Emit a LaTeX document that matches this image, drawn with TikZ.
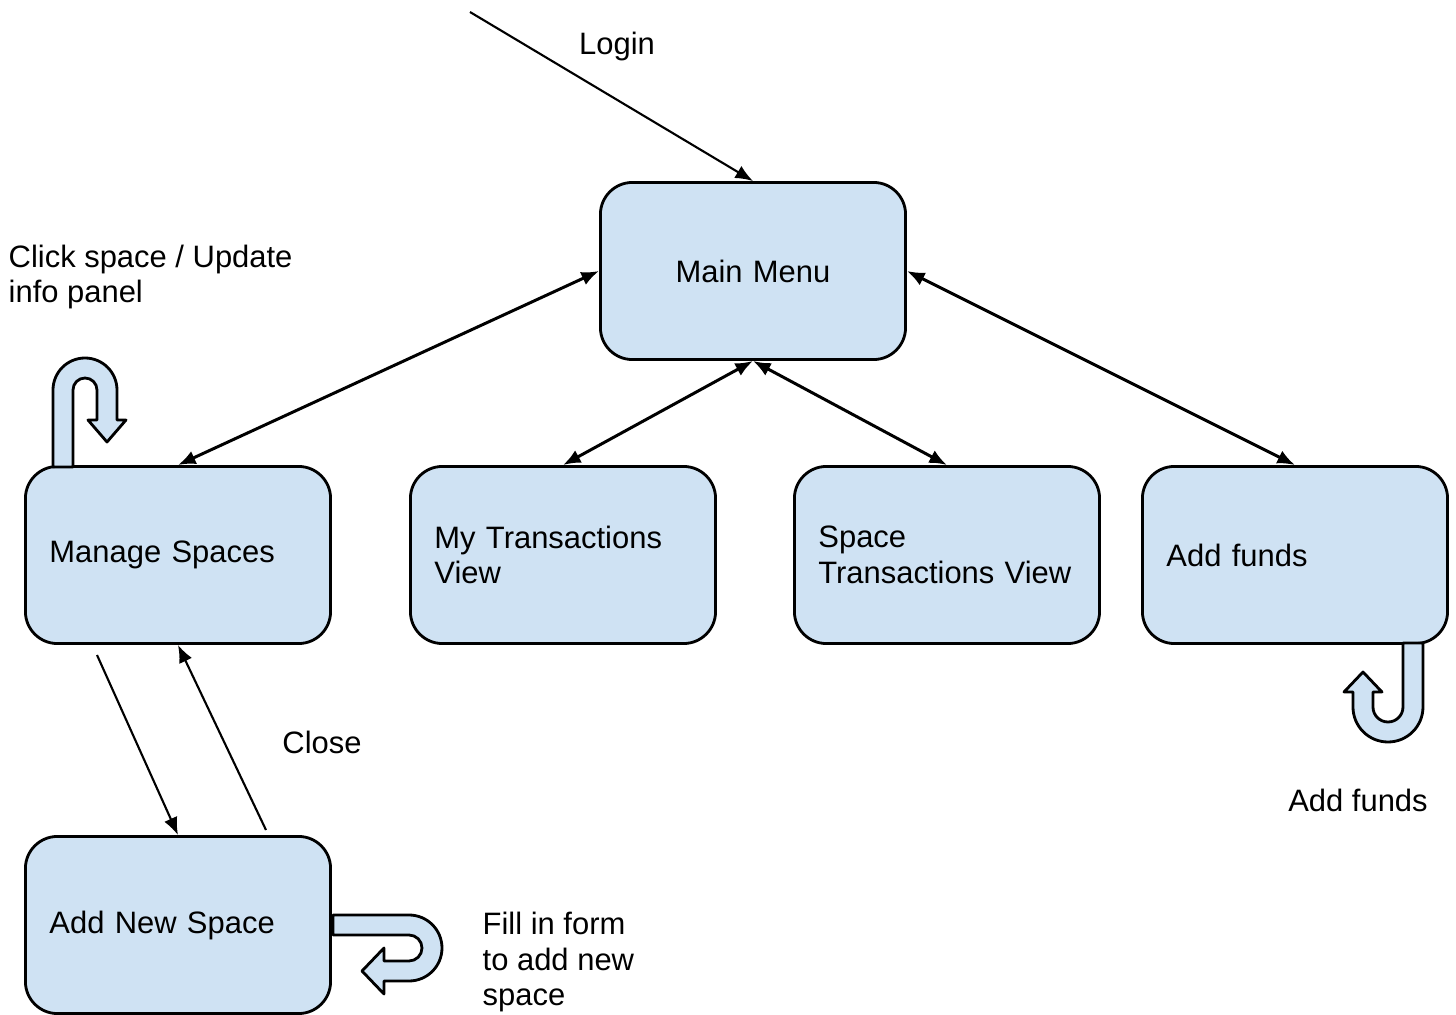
\documentclass[tikz,border=0pt]{standalone}
\usepackage{fontspec}
\setmainfont{Liberation Sans}
\usetikzlibrary{arrows.meta}
\definecolor{boxblue}{HTML}{CFE2F3}
\begin{document}
\begin{tikzpicture}[x=0.01cm,y=0.01cm,
  font=\fontsize{8.8}{10.2}\selectfont,
  screen/.style={draw, line width=0.8pt, fill=boxblue, rounded corners=0.32cm,
    minimum width=3.05cm, minimum height=1.77cm, text width=2.57cm,
    inner xsep=0.24cm, align=left},
  link/.style={line width=0.85pt, {Latex[length=5pt,width=4pt]}-{Latex[length=5pt,width=4pt]}},
  thin link/.style={line width=0.6pt, -{Latex[length=5pt,width=4pt]}},
  turn/.style={draw, line width=0.8pt, fill=boxblue, line join=round}]
\useasboundingbox (0,0) rectangle (1456,-1015);
\node[screen, align=center] (mm) at (753,-271) {Main Menu};
\node[screen] (ms) at (178,-555) {Manage Spaces};
\node[screen] (mt) at (563,-555) {My Transactions\\View};
\node[screen] (st) at (947,-555) {Space\\Transactions View};
\node[screen] (af) at (1295,-555) {Add funds};
\node[screen] (ns) at (178,-925) {Add New Space};
\coordinate (login) at (470,-12);
\coordinate (msout) at (97,-655);
\coordinate (nsout) at (266,-830);
\draw[thin link] (login) -- (mm.north);
\foreach \a/\b in {west/ms, south/mt, south/st, east/af}
  \draw[link] (mm.\a) -- (\b.north);
\draw[thin link] (msout) -- (ns.north);
\draw[thin link] (nsout) -- (ms.south);
\draw[turn] (53,-467) -- (53,-390) arc(180:0:32) -- (117,-420) -- (126,-420)
  -- (107,-442) -- (88,-420) -- (97,-420) -- (97,-390) arc(0:180:12)
  -- (73,-467) -- cycle;
\draw[turn] (1403,-643) -- (1403,-707) arc(0:-180:15) -- (1373,-692) -- (1382,-692)
  -- (1363,-672) -- (1344,-692) -- (1353,-692) -- (1353,-707) arc(180:360:35)
  -- (1423,-643) -- cycle;
\draw[turn] (333,-915) -- (409,-915) arc(90:-90:33) -- (384,-981) -- (384,-994)
  -- (362,-971) -- (384,-948) -- (384,-961) -- (409,-961) arc(-90:90:13)
  -- (333,-935) -- cycle;
\node (lg) at (617,-46) {Login};
\node[anchor=west, align=left, inner sep=0pt] (clk) at (8,-277) {Click space / Update\\info panel};
\node (cl) at (322,-742) {Close};
\node[anchor=west, align=left, inner sep=0pt] (fill) at (482,-962) {Fill in form\\to add new\\space};
\node (add) at (1358,-800) {Add funds};
\end{tikzpicture}
\end{document}
